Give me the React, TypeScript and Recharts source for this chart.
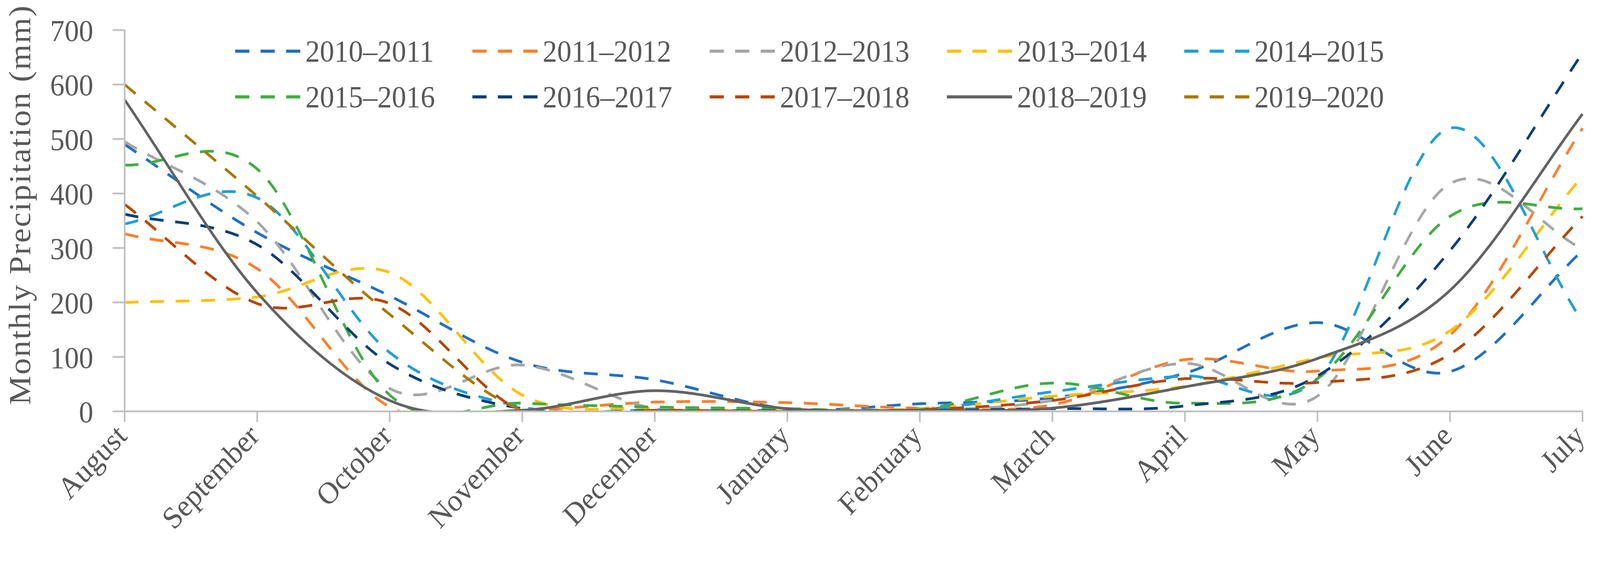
import React from 'react';
import { LineChart, Line, XAxis, YAxis, Legend } from 'recharts';

const MONTHS = ['August', 'September', 'October', 'November', 'December', 'January', 'February', 'March', 'April', 'May', 'June', 'July'];
const Y_TICKS = [0, 100, 200, 300, 400, 500, 600, 700];

// monthly precipitation (mm)
const P_2010 = [490, 328, 212, 90, 58, 5, 14, 25, 70, 163, 73, 295];
const P_2011 = [326, 262, 8, 2, 17, 16, 6, 12, 95, 74, 140, 520];
const P_2012 = [495, 348, 42, 85, 5, 3, 2, 20, 88, 28, 418, 298];
const P_2013 = [200, 210, 255, 30, 5, 3, 5, 28, 46, 98, 148, 432];
const P_2014 = [344, 392, 108, 8, 2, 2, 3, 36, 65, 60, 520, 165];
const P_2015 = [452, 445, 30, 15, 8, 5, 3, 52, 15, 60, 358, 372];
const P_2016 = [362, 306, 87, 5, 1, 1, 2, 5, 10, 65, 295, 658];
const P_2017 = [380, 198, 198, 0, 2, 0, 3, 20, 60, 53, 105, 358];
const P_2018 = [572, 218, 20, 2, 38, 5, 2, 6, 45, 97, 222, 546];
const P_2019 = [600, 395, 178, 2, 0, 0, null, null, null, null, null, null];

const SERIES = [
  { key: 's2010', name: '2010–2011', color: '#1F70C8', values: P_2010, dashed: true },
  { key: 's2011', name: '2011–2012', color: '#FF7F2A', values: P_2011, dashed: true },
  { key: 's2012', name: '2012–2013', color: '#A6A6A6', values: P_2012, dashed: true },
  { key: 's2013', name: '2013–2014', color: '#FFC000', values: P_2013, dashed: true },
  { key: 's2014', name: '2014–2015', color: '#1F9FDB', values: P_2014, dashed: true },
  { key: 's2015', name: '2015–2016', color: '#40AE40', values: P_2015, dashed: true },
  { key: 's2016', name: '2016–2017', color: '#0C3F78', values: P_2016, dashed: true },
  { key: 's2017', name: '2017–2018', color: '#B84600', values: P_2017, dashed: true },
  { key: 's2018', name: '2018–2019', color: '#636363', values: P_2018, dashed: false },
  { key: 's2019', name: '2019–2020', color: '#A87800', values: P_2019, dashed: true },
];

const data = MONTHS.map((month, i) => {
  const row: Record<string, any> = { month };
  SERIES.forEach(s => {
    const v = s.values[i];
    if (v !== null && v !== undefined) row[s.key] = v;
  });
  return row;
});

const W = 4390;
const H = 1436;
const FONT = '"Liberation Serif", "Times New Roman", serif';
const TEXT = '#595959';
const AXIS = '#BFBFBF';
const DASH = '38 32';
const LINE_W = 7;

// Excel style smoothed line (cubic bezier, control points at 1/6 of neighbour span)
function excelCurve(context: any) {
  let pts: number[][] = [];
  return {
    areaStart() {},
    areaEnd() {},
    lineStart() { pts = []; },
    point(x: number, y: number) { pts.push([+x, +y]); },
    lineEnd() {
      const n = pts.length;
      if (!n) return;
      context.moveTo(pts[0][0], pts[0][1]);
      if (n === 1) return;
      const tan = (i: number) => {
        if (i === 0) return [pts[1][0] - pts[0][0], pts[1][1] - pts[0][1]];
        if (i === n - 1) return [pts[n - 1][0] - pts[n - 2][0], pts[n - 1][1] - pts[n - 2][1]];
        return [(pts[i + 1][0] - pts[i - 1][0]) / 2, (pts[i + 1][1] - pts[i - 1][1]) / 2];
      };
      for (let i = 0; i < n - 1; i++) {
        const m0 = tan(i);
        const m1 = tan(i + 1);
        context.bezierCurveTo(
          pts[i][0] + m0[0] / 3, pts[i][1] + m0[1] / 3,
          pts[i + 1][0] - m1[0] / 3, pts[i + 1][1] - m1[1] / 3,
          pts[i + 1][0], pts[i + 1][1]
        );
      }
    },
  };
}

const MonthTick = (props: any) => {
  const { x, y, payload } = props;
  const ax = x + 10;
  const ay = y + 38;
  return (
    <text
      x={ax}
      y={ay}
      transform={`rotate(-45, ${ax}, ${ay})`}
      textAnchor="end"
      fill={TEXT}
      fontSize={79}
      fontFamily={FONT}
    >
      {payload.value}
    </text>
  );
};

const renderLegend = () => (
  <div style={{ display: 'grid', gridTemplateColumns: 'repeat(5, 651px)' }}>
    {SERIES.map(s => (
      <div key={s.key} style={{ display: 'flex', alignItems: 'center', height: 117 }}>
        <svg width={179} height={20} style={{ flex: 'none' }}>
          <line
            x1={0}
            y1={10}
            x2={179}
            y2={10}
            stroke={s.color}
            strokeWidth={LINE_W + 1}
            strokeDasharray={s.dashed ? '39 31' : undefined}
          />
        </svg>
        <span style={{ marginLeft: 14, fontSize: 79, fontFamily: FONT, color: TEXT, lineHeight: 1, whiteSpace: 'nowrap' }}>
          {s.name}
        </span>
      </div>
    ))}
  </div>
);

export default function App() {
  // the capture can be narrower than the asked window, so fit the whole figure into it
  const vw = typeof window !== 'undefined' ? window.innerWidth : W;
  const vh = typeof window !== 'undefined' ? window.innerHeight : H;
  const sx = vw > 0 && vw < W ? vw / W : 1;
  const sy = vh > 0 && vh < H ? vh / H : 1;

  return (
    <div style={{ width: W * sx, height: H * sy, overflow: 'hidden', background: '#fff' }}>
      <style>{'html,body{margin:0;overflow:hidden;background:#fff}'}</style>
      <div style={{ width: W, height: H, transform: `scale(${sx}, ${sy})`, transformOrigin: '0 0' }}>
        <LineChart
          width={W}
          height={H}
          data={data}
          margin={{ top: 77, right: 48, bottom: 283, left: 42 }}
        >
          <XAxis
            dataKey="month"
            interval={0}
            height={100}
            tickSize={27}
            axisLine={{ stroke: AXIS, strokeWidth: 4.5 }}
            tickLine={{ stroke: AXIS, strokeWidth: 4.5 }}
            tick={<MonthTick />}
          />
          <YAxis
            width={300}
            domain={[0, 700]}
            ticks={Y_TICKS}
            allowDataOverflow
            tickSize={33}
            tickMargin={53}
            axisLine={{ stroke: AXIS, strokeWidth: 4.5 }}
            tickLine={{ stroke: AXIS, strokeWidth: 4.5 }}
            tick={{ fill: TEXT, fontSize: 79, fontFamily: FONT }}
            label={{
              content: () => (
                <text
                  x={83}
                  y={524}
                  transform="rotate(-90, 83, 524)"
                  textAnchor="middle"
                  fill={TEXT}
                  fontSize={84}
                  fontFamily={FONT}
                  letterSpacing={3}
                >
                  Monthly Precipitation (mm)
                </text>
              ),
            }}
          />
          <Legend
            layout="horizontal"
            verticalAlign="middle"
            align="center"
            wrapperStyle={{ top: 72, left: 645, width: 3300 }}
            content={renderLegend}
          />
          {SERIES.map(s => (
            <Line
              key={s.key}
              dataKey={s.key}
              name={s.name}
              type={excelCurve as any}
              stroke={s.color}
              strokeWidth={LINE_W}
              strokeDasharray={s.dashed ? DASH : undefined}
              dot={false}
              activeDot={false}
              isAnimationActive={false}
            />
          ))}
        </LineChart>
      </div>
    </div>
  );
}
